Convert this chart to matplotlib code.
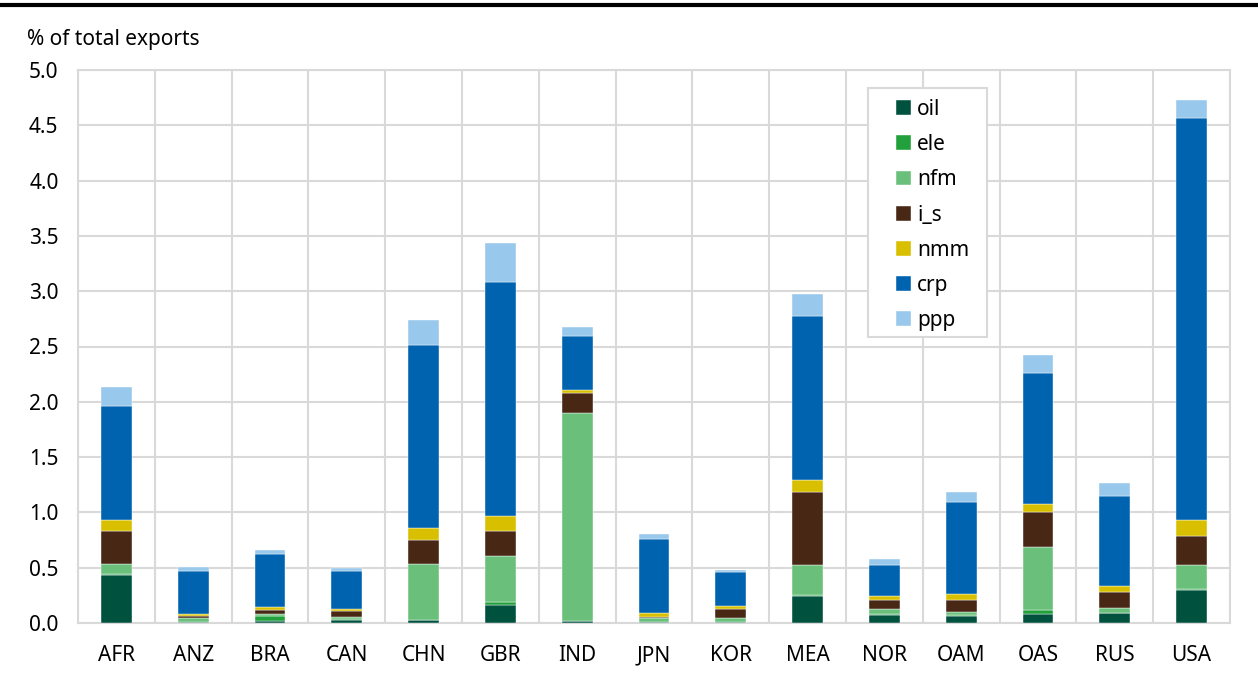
import matplotlib
matplotlib.use("Agg")
import matplotlib.pyplot as plt
from matplotlib.patches import Rectangle
import numpy as np

plt.rcParams["font.family"] = ["Noto Sans", "DejaVu Sans"]

regions = ["AFR", "ANZ", "BRA", "CAN", "CHN", "GBR", "IND", "JPN",
           "KOR", "MEA", "NOR", "OAM", "OAS", "RUS", "USA"]

oil = [0.43, 0.005, 0.02, 0.03, 0.025, 0.16, 0.015, 0.01, 0.005, 0.245, 0.07, 0.065, 0.085, 0.09, 0.30]
ele = [0.015, 0.003, 0.045, 0.005, 0.005, 0.03, 0.003, 0.003, 0.002, 0.005, 0.015, 0.003, 0.03, 0.003, 0.005]
nfm = [0.09, 0.04, 0.02, 0.02, 0.50, 0.42, 1.88, 0.035, 0.035, 0.275, 0.045, 0.03, 0.57, 0.043, 0.22]
i_s = [0.30, 0.015, 0.037, 0.055, 0.22, 0.22, 0.18, 0.01, 0.088, 0.655, 0.08, 0.11, 0.32, 0.144, 0.26]
nmm = [0.10, 0.02, 0.023, 0.02, 0.11, 0.14, 0.03, 0.03, 0.024, 0.115, 0.035, 0.05, 0.075, 0.057, 0.145]
crp = [1.03, 0.385, 0.483, 0.34, 1.65, 2.11, 0.49, 0.675, 0.306, 1.48, 0.28, 0.835, 1.18, 0.81, 3.64]
ppp = [0.17, 0.04, 0.03, 0.025, 0.23, 0.36, 0.08, 0.04, 0.02, 0.20, 0.055, 0.09, 0.16, 0.115, 0.16]

series = [("oil", oil, "#00523f"), ("ele", ele, "#22a03c"), ("nfm", nfm, "#6abf7b"),
          ("i_s", i_s, "#482815"), ("nmm", nmm, "#d8c000"), ("crp", crp, "#0063b0"),
          ("ppp", ppp, "#98c8ec")]

W, H = 1258, 675
fig = plt.figure(figsize=(W / 100, H / 100), dpi=100)
ax = fig.add_axes([78 / W, 52 / H, 1152 / W, 553 / H])

x = np.arange(len(regions))
bottom = np.zeros(len(regions))
for name, vals, col in series:
    vals = np.array(vals)
    ax.bar(x, vals, 0.40, bottom=bottom, color=col, label=name,
           edgecolor="white", linewidth=0.3, zorder=3)
    bottom += vals

grid_col = "#d9d9d9"
ax.set_xlim(-0.5, len(regions) - 0.5)
ax.set_ylim(0, 5.0)
ax.set_yticks(np.arange(0, 5.01, 0.5))
ax.set_yticklabels([f"{v:.1f}" for v in np.arange(0, 5.01, 0.5)])
ax.set_xticks(x)
ax.set_xticklabels(regions)
ax.set_xticks(np.arange(-0.5, len(regions), 1), minor=True)
ax.grid(axis="y", which="major", color=grid_col, linewidth=1.5, zorder=0)
ax.grid(axis="x", which="minor", color=grid_col, linewidth=1.5, zorder=0)
ax.tick_params(axis="both", which="both", length=0, labelsize=15, colors="black")
ax.tick_params(axis="y", pad=14)
ax.tick_params(axis="x", pad=16)
for s in ax.spines.values():
    s.set_color(grid_col)
    s.set_linewidth(1.5)

# legend without frame, frame drawn separately (asymmetric padding)
leg = ax.legend(loc="upper left",
                bbox_to_anchor=(896 / W, 1 - 99 / H), bbox_transform=fig.transFigure,
                fontsize=15, frameon=False,
                handlelength=0.72, handleheight=0.72, handletextpad=0.3,
                labelspacing=0.68, borderpad=0, borderaxespad=0)
leg.set_zorder(6)
ax.add_patch(Rectangle((868 / W, 1 - 337 / H), 119 / W, 249 / H,
                       transform=fig.transFigure, facecolor="white",
                       edgecolor=grid_col, linewidth=1.5, zorder=5, clip_on=False))

fig.text(27 / W, 1 - 40 / H, "% of total exports", fontsize=15, va="center")
fig.add_artist(plt.Line2D([0, 1], [1 - 5 / H, 1 - 5 / H], color="black",
                          linewidth=3, transform=fig.transFigure))

fig.savefig("out.png", dpi=100)
